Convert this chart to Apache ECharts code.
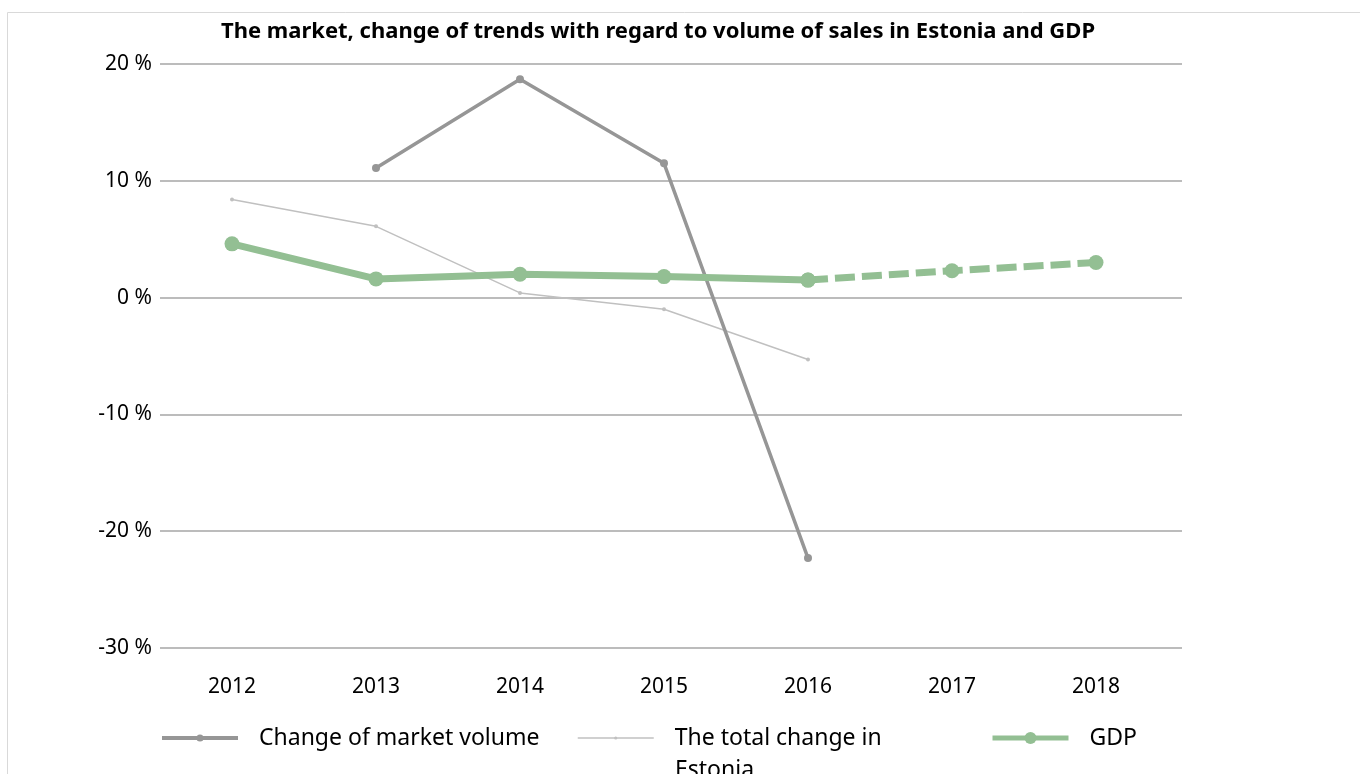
<!DOCTYPE html>
<html>
<head>
<meta charset="utf-8">
<script src="https://cdn.jsdelivr.net/npm/echarts@6/dist/echarts.min.js"></script>
<style>
  html, body { margin: 0; padding: 0; background: #fff; }
  #main { width: 1360px; height: 774px; }
</style>
</head>
<body>
<div id="main"></div>
<script>
const years = ['2012', '2013', '2014', '2015', '2016', '2017', '2018']
const marketVolume = [null, 11.1, 18.7, 11.5, -22.3, null, null]
const totalChange = [8.4, 6.1, 0.4, -1.0, -5.3, null, null]
const gdp = [4.6, 1.6, 2.0, 1.8, 1.5, null, null]
const gdpForecast = [null, null, null, null, 1.5, 2.3, 3.0]
const yTicks = { min: -30, max: 20, step: 10 }

const font = "'Noto Sans', sans-serif"
const green = '#93bf93'

function legendAt(name, left, symbolH, lineW, label) {
  return {
    data: [name],
    left: left,
    top: 722,
    itemWidth: 76,
    itemHeight: symbolH,
    itemGap: 0,
    padding: 0,
    selectedMode: false,
    lineStyle: { width: lineW },
    formatter: function () { return label || name },
    textStyle: {
      fontFamily: font,
      fontSize: 23,
      color: '#000',
      lineHeight: 32,
      padding: [0, 0, 0, 16]
    }
  }
}

const yAxisBase = {
  type: 'value',
  min: yTicks.min,
  max: yTicks.max,
  interval: yTicks.step,
  axisLine: { show: false },
  axisTick: { show: false }
}

const myChart = echarts.init(document.getElementById('main'))
const option = {
  animation: false,
  title: {
    text: 'The market, change of trends with regard to volume of sales in Estonia and GDP',
    left: 653,
    textAlign: 'center',
    top: 16,
    textStyle: { fontFamily: font, fontSize: 22, fontWeight: 'bold', color: '#000' }
  },
  graphic: [{
    type: 'rect',
    shape: { x: 7.5, y: 12.5, width: 1400, height: 800 },
    style: { fill: 'none', stroke: '#d9d9d9', lineWidth: 1 },
    silent: true
  }, {
    type: 'text',
    left: 675,
    top: 759,
    style: { text: 'Estonia', fontFamily: font, fontSize: 23, fill: '#000' },
    silent: true
  }],
  grid: [
    { left: 160, right: 178, top: 64, bottom: 126 },
    { left: 160, right: 192, top: 64, bottom: 126 }
  ],
  legend: [
    legendAt('Change of market volume', 160, 9, 4),
    legendAt('The total change in Estonia', 577, 4, 1.5, 'The total change in'),
    legendAt('GDP', 990, 15, 5)
  ],
  xAxis: [
    { type: 'category', gridIndex: 0, data: years, show: false },
    {
      type: 'category',
      gridIndex: 1,
      data: years,
      boundaryGap: true,
      axisLine: { show: false },
      axisTick: { show: false },
      axisLabel: { fontFamily: font, fontSize: 21, color: '#000', margin: 29 }
    }
  ],
  yAxis: [
    Object.assign({}, yAxisBase, {
      gridIndex: 0,
      axisLabel: { fontFamily: font, fontSize: 21, color: '#000', margin: 8, formatter: '{value} %' },
      splitLine: { lineStyle: { color: '#a6a6a6', width: 1.5 } }
    }),
    Object.assign({}, yAxisBase, {
      gridIndex: 1,
      axisLabel: { show: false },
      splitLine: { show: false }
    })
  ],
  series: [
    {
      name: 'Change of market volume',
      type: 'line',
      xAxisIndex: 1,
      yAxisIndex: 1,
      data: marketVolume,
      symbol: 'circle',
      symbolSize: 8,
      lineStyle: { color: '#969696', width: 3.5 },
      itemStyle: { color: '#969696' },
      z: 3
    },
    {
      name: 'The total change in Estonia',
      type: 'line',
      xAxisIndex: 1,
      yAxisIndex: 1,
      data: totalChange,
      symbol: 'circle',
      symbolSize: 4,
      lineStyle: { color: '#c0c0c0', width: 1.5 },
      itemStyle: { color: '#c0c0c0' },
      z: 2
    },
    {
      name: 'GDP',
      type: 'line',
      xAxisIndex: 1,
      yAxisIndex: 1,
      data: gdp,
      symbol: 'circle',
      symbolSize: 15,
      lineStyle: { color: green, width: 7 },
      itemStyle: { color: green },
      z: 4
    },
    {
      name: 'GDP forecast',
      type: 'line',
      xAxisIndex: 1,
      yAxisIndex: 1,
      data: gdpForecast,
      symbol: 'circle',
      symbolSize: 15,
      lineStyle: { color: green, width: 7, type: [20, 7] },
      itemStyle: { color: green },
      z: 4
    }
  ]
}
myChart.setOption(option)
window.onresize = function () {
  myChart.resize()
}
</script>
</body>
</html>
